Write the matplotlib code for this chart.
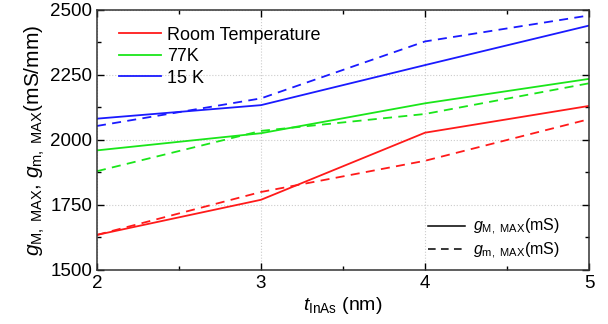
import matplotlib
matplotlib.use('Agg')
import matplotlib.pyplot as plt
from matplotlib.lines import Line2D
from matplotlib.ticker import MultipleLocator

# * Datos
t_inas = [2, 3, 4, 5]
rt_gM = [1635, 1770, 2028, 2131]
rt_gm = [1635, 1800, 1920, 2080]
k77_gM = [1960, 2026, 2141, 2235]
k77_gm = [1880, 2035, 2100, 2218]
k15_gM = [2082, 2134, 2288, 2440]
k15_gm = [2054, 2160, 2379, 2479]

temp_labels = ['Room Temperature', '77K', '15 K']
colores = ['#ff1a1a', '#1ae61a', '#1a1aff']

plt.rcParams['font.family'] = ['Liberation Sans', 'DejaVu Sans']
plt.rcParams['mathtext.fontset'] = 'custom'
plt.rcParams['mathtext.rm'] = 'Liberation Sans'
plt.rcParams['mathtext.it'] = 'Liberation Sans:italic'

fig = plt.figure(figsize=(6.08, 3.24), dpi=100)
ax = fig.add_axes([0.1595, 0.1667, 0.8093, 0.8025])

series = [(rt_gM, rt_gm), (k77_gM, k77_gm), (k15_gM, k15_gm)]
handles = []
for (solida, discontinua), c, lab in zip(series, colores, temp_labels):
    h, = ax.plot(t_inas, solida, color=c, lw=1.3, label=lab)
    ax.plot(t_inas, discontinua, color=c, lw=1.3, dashes=(5, 3.5))
    handles.append(h)

ax.set_xlim(2, 5)
ax.set_ylim(1500, 2500)
ax.xaxis.set_major_locator(MultipleLocator(1))
ax.xaxis.set_minor_locator(MultipleLocator(0.5))
ax.yaxis.set_major_locator(MultipleLocator(250))
ax.yaxis.set_minor_locator(MultipleLocator(125))
ax.tick_params(which='both', direction='in', top=True, right=True, labelsize=13.5)
ax.tick_params(which='major', length=5, width=1)
ax.tick_params(which='minor', length=3, width=1)
ax.grid(True, which='major', color='#cccccc', ls=':', lw=0.8)
for s in ax.spines.values():
    s.set_linewidth(1.1)
    s.set_color('#333333')

ax.set_xlabel(r'$\mathit{t}_{\mathrm{InAs}}$ (nm)', fontsize=14, labelpad=2)
ax.set_ylabel(r'$\mathit{g}_{\mathrm{M,\ MAX}}$, $\mathit{g}_{\mathrm{m,\ MAX}}$(mS/mm)', fontsize=15, labelpad=2)

leg1 = ax.legend(handles=handles, loc='upper left', frameon=False, fontsize=13,
                 handlelength=2.3, handletextpad=0.35, labelspacing=0.25,
                 borderaxespad=0.3, bbox_to_anchor=(0.02, 0.985))
ax.add_artist(leg1)

estilos = [Line2D([], [], color='black', lw=1.1),
           Line2D([], [], color='black', lw=1.1, dashes=(5, 3.5))]
ax.legend(estilos, [r'$\mathit{g}_{\mathrm{M,\ MAX}}$(mS)', r'$\mathit{g}_{\mathrm{m,\ MAX}}$(mS)'],
          loc='lower right', frameon=False, fontsize=11.5, handlelength=2.3,
          handletextpad=0.5, labelspacing=0.2, bbox_to_anchor=(0.97, -0.02))

fig.savefig('out.png', dpi=100)
